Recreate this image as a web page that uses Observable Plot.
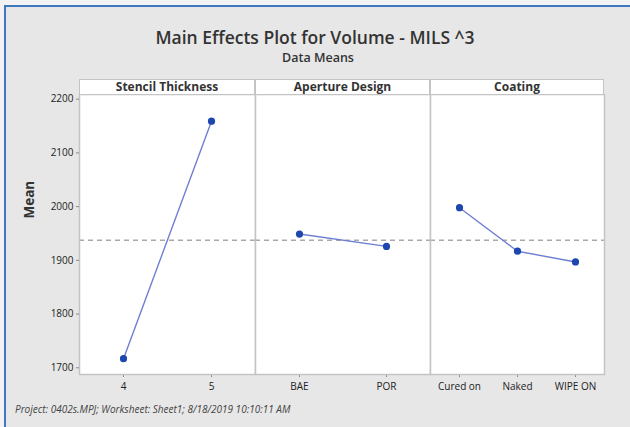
<!DOCTYPE html>
<html>
<head>
<meta charset="utf-8">
<script src="https://cdn.jsdelivr.net/npm/d3@7"></script>
<script src="https://cdn.jsdelivr.net/npm/@observablehq/plot@0.6"></script>
<style>
  html, body { margin: 0; padding: 0; }
  body { width: 630px; height: 427px; background: #f3f3f3; position: relative; overflow: hidden;
         font-family: "Open Sans", "Noto Sans", sans-serif; color: #333; }
  #frame { position: absolute; left: 4px; top: 5px; right: 0; bottom: 0; background: #e7e7e7;
           border-top: 2px solid #3f78c0; border-left: 2px solid #3f78c0; }
  .abs { position: absolute; }
  #title { left: 0; width: 630px; top: 25px; text-align: center; font-size: 17.5px; font-weight: 600; color: #333; }
  #subtitle { left: 0; width: 636px; top: 49px; text-align: center; font-size: 12.5px; font-weight: 600; color: #333; }
  .hdr { top: 79px; height: 16px; box-sizing: border-box; background: #fff; border: 1px solid #c4c4c4;
         text-align: center; font-size: 12px; font-weight: 700; line-height: 13px; color: #333; }
  #footer { left: 15px; top: 402px; font-size: 10px; font-style: italic; color: #444; }
  svg { overflow: visible; }
</style>
</head>
<body>
<div id="frame"></div>
<div id="title" class="abs">Main Effects Plot for Volume - MILS ^3</div>
<div id="subtitle" class="abs">Data Means</div>
<div id="footer" class="abs">Project: 0402s.MPJ; Worksheet: Sheet1; 8/18/2019 10:10:11 AM</div>
<script>
// ---- data ----
const factors = ["Stencil Thickness", "Aperture Design", "Coating"];
const stencilLevels = ["4", "5"];
const stencilMeans = [1717, 2159];
const apertureLevels = ["BAE", "POR"];
const apertureMeans = [1949, 1926];
const coatingLevels = ["Cured on", "Naked", "WIPE ON"];
const coatingMeans = [1998, 1917, 1897];
const grandMean = 1937.3;
const yTicks = [1700, 1800, 1900, 2000, 2100, 2200];
const yDomain = [1687.5, 2208.75];
const yLabel = "Mean";

// ---- layout ----
const panels = [
  {factor: factors[0], levels: stencilLevels, means: stencilMeans, left: 0, marginLeft: 79, width: 255},
  {factor: factors[1], levels: apertureLevels, means: apertureMeans, left: 255, marginLeft: 0, width: 175},
  {factor: factors[2], levels: coatingLevels, means: coatingMeans, left: 430, marginLeft: 0, width: 174}
];

panels.forEach((p, i) => {
  const data = p.levels.map((l, j) => ({level: l, mean: p.means[j]}));
  const marks = [
    Plot.frame({fill: "white"}),
    Plot.ruleY([grandMean], {stroke: "#a9a9a9", strokeWidth: 1.6, strokeDasharray: "5,4"}),
    Plot.line(data, {x: "level", y: "mean", stroke: "#6f7fd2", strokeWidth: 1.4}),
    Plot.dot(data, {x: "level", y: "mean", r: 3.6, fill: "#1d47ae", stroke: "none"}),
    Plot.axisX({tickSize: 3, tickPadding: 5, fontSize: 10, fill: "#222", stroke: "#888", label: null}),
    Plot.frame({stroke: "#c4c4c4", strokeWidth: 1.5})
  ];
  if (i === 0) {
    marks.push(Plot.axisY({ticks: yTicks, tickFormat: d3.format("d"), tickSize: 3, tickPadding: 3, fontSize: 10, fill: "#222", stroke: "#888", label: null}));
    marks.push(Plot.text([yLabel], {frameAnchor: "left", dx: -50, dy: -16, rotate: -90, fontSize: 13.5, fontWeight: "bold", fill: "#333"}));
  }
  const chart = Plot.plot({
    width: p.width,
    height: 305,
    marginLeft: p.marginLeft,
    marginRight: 0,
    marginTop: 0,
    marginBottom: 25,
    style: {background: "transparent", fontFamily: "'Open Sans', 'Noto Sans', sans-serif"},
    x: {type: "point", domain: p.levels, padding: 0.5, axis: null},
    y: {domain: yDomain, axis: null},
    marks
  });
  chart.classList.add("abs");
  chart.style.left = p.left + "px";
  chart.style.top = "94px";
  document.body.appendChild(chart);

  const hdr = document.createElement("div");
  hdr.className = "abs hdr";
  hdr.style.left = (p.left + p.marginLeft) + "px";
  hdr.style.width = (p.width - p.marginLeft) + "px";
  hdr.textContent = p.factor;
  document.body.appendChild(hdr);
});
</script>
</body>
</html>
